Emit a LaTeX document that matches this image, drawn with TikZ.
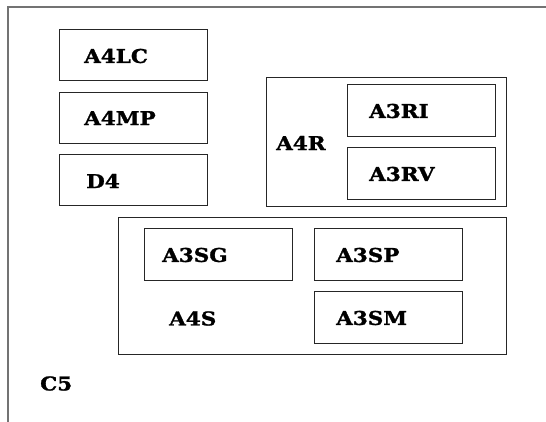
\documentclass[tikz,border=0pt]{standalone}
\usepackage{fontspec}
\setmainfont{DejaVu Serif}[BoldFeatures={FakeBold=1.3}]
\newcommand\wid[1]{\scalebox{1.13}[1]{#1}}
\begin{document}
\begin{tikzpicture}[x=1pt,y=-1pt,
  box/.style={draw=black!85,line width=0.9pt,rectangle,inner sep=0pt},
  lbl/.style={anchor=west,inner sep=0pt,font=\bfseries\fontsize{19}{19}\selectfont},
  frame/.style={draw=black!55,line width=1.2pt}]
\useasboundingbox (0,0) rectangle (546,422);
\coordinate (ftl) at (8,7);
\coordinate (ftr) at (546,7);
\coordinate (fbl) at (8,422);
\draw[frame] (fbl) -- (ftl) -- (ftr);
\node[box,minimum width=148pt,minimum height=51pt] (a4lc) at (133,55) {};
\node[box,minimum width=148pt,minimum height=51pt] (a4mp) at (133,117.5) {};
\node[box,minimum width=148pt,minimum height=51pt] (d4) at (133,180) {};
\node[lbl] (ta4lc) at (84,56) {\wid{A4LC}};
\node[lbl] (ta4mp) at (84,118) {\wid{A4MP}};
\node[lbl] (td4) at (86,181) {\wid{D4}};
\node[box,minimum width=240pt,minimum height=129.5pt] (a4r) at (386.7,142) {};
\node[box,minimum width=148pt,minimum height=52pt] (a3ri) at (421.3,110) {};
\node[box,minimum width=148pt,minimum height=52pt] (a3rv) at (421.3,173.3) {};
\node[lbl] (ta4r) at (276,143) {\wid{A4R}};
\node[lbl] (ta3ri) at (369,111) {\wid{A3RI}};
\node[lbl] (ta3rv) at (369,174) {\wid{A3RV}};
\node[box,minimum width=388.4pt,minimum height=136.7pt] (a4s) at (312.5,285.7) {};
\node[box,minimum width=148.4pt,minimum height=52pt] (a3sg) at (218.5,254.3) {};
\node[box,minimum width=148pt,minimum height=52pt] (a3sp) at (388.3,254.3) {};
\node[box,minimum width=148pt,minimum height=52pt] (a3sm) at (388.3,317.3) {};
\node[lbl] (ta3sg) at (162,255) {\wid{A3SG}};
\node[lbl] (ta3sp) at (336,255) {\wid{A3SP}};
\node[lbl] (ta3sm) at (336,318) {\wid{A3SM}};
\node[lbl] (ta4s) at (169,318.5) {\wid{A4S}};
\node[lbl] (tc5) at (40,383.5) {\wid{C5}};
\end{tikzpicture}
\end{document}
